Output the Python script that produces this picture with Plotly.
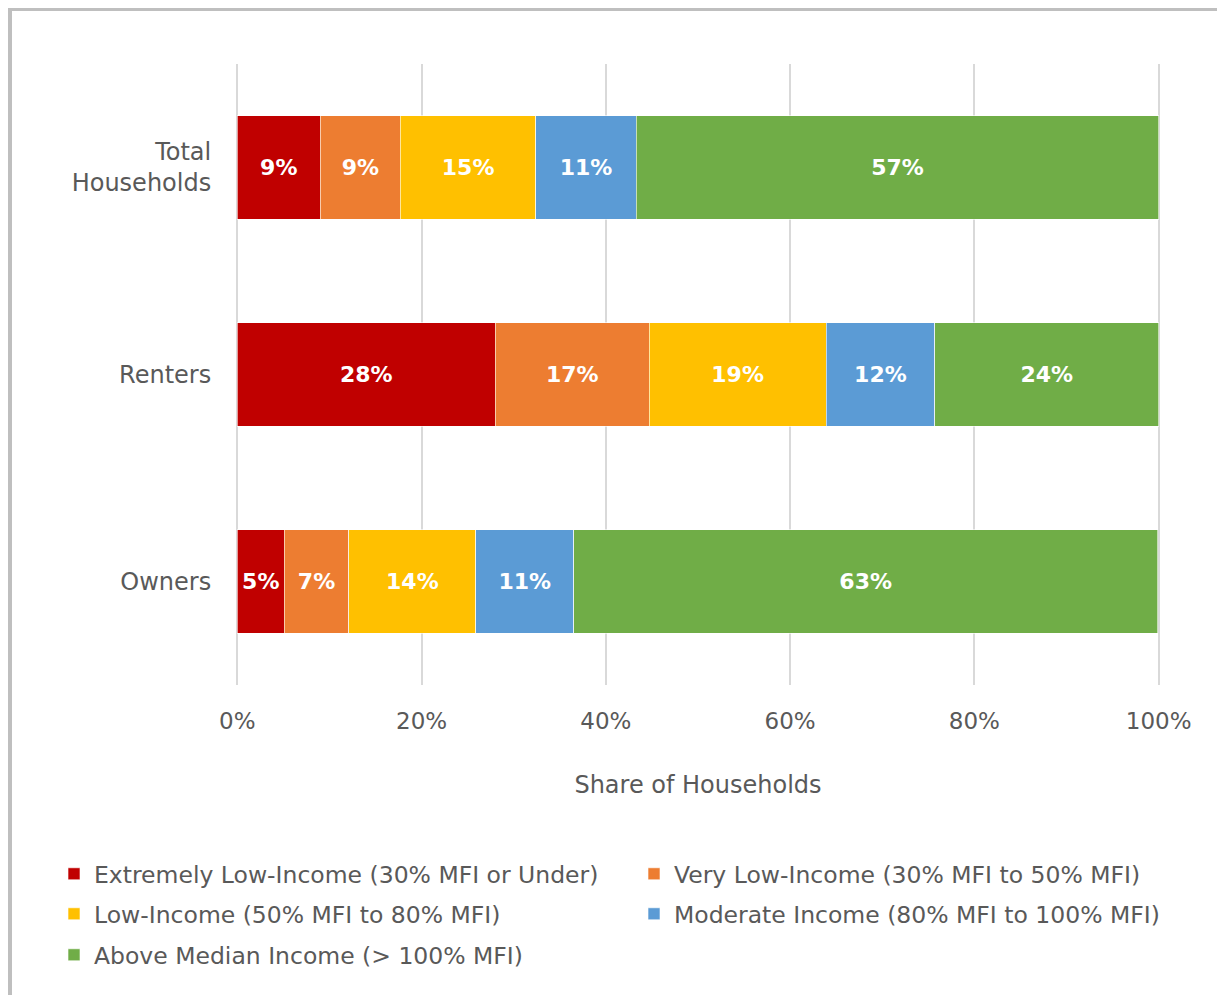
import plotly.graph_objects as go

categories = ["Total<br>Households", "Renters", "Owners"]
series_names = [
    "Extremely Low-Income (30% MFI or Under)",
    "Very Low-Income (30% MFI to 50% MFI)",
    "Low-Income (50% MFI to 80% MFI)",
    "Moderate Income (80% MFI to 100% MFI)",
    "Above Median Income (> 100% MFI)",
]
extremely_low = [9.0, 28.0, 5.1]
very_low = [8.7, 16.7, 7.0]
low = [14.7, 19.2, 13.8]
moderate = [10.9, 11.8, 10.6]
above_median = [56.7, 24.3, 63.4]
colors = ["#C00000", "#ED7D31", "#FFC000", "#5B9BD5", "#70AD47"]
x_ticks = [0, 20, 40, 60, 80, 100]
x_ticklabels = ["0%", "20%", "40%", "60%", "80%", "100%"]

FONT = "DejaVu Sans"
GRAY = "#595959"

# one legend per entry so the two-column layout and row spacing match
legend_ids = ["legend", "legend2", "legend3", "legend4", "legend5"]

fig = go.Figure()
for name, vals, col, lg in zip(series_names,
                               [extremely_low, very_low, low, moderate, above_median],
                               colors, legend_ids):
    fig.add_trace(go.Bar(
        y=categories, x=vals, name=name, orientation="h", legend=lg,
        showlegend=True,
        marker=dict(color=col, line=dict(color="rgba(255,255,255,0.6)", width=1)),
        text=[f"{round(v)}%" for v in vals],
        textposition="inside", insidetextanchor="middle", textangle=0,
        insidetextfont=dict(family=FONT, size=22, color="white", weight="bold"),
        hoverinfo="skip",
    ))

ML, MR, MT, MB = 227, 64, 56, 310
W, H = 1217, 987
PW = W - ML - MR
PH = H - MT - MB

def px_x(px_page):
    return (px_page - 8 - ML) / PW

def px_y(py_page):
    return (H - MB - (py_page - 8)) / PH

legend_common = dict(
    orientation="h", xanchor="left", yanchor="middle",
    font=dict(family=FONT, size=23.5, color=GRAY),
    bgcolor="rgba(0,0,0,0)",
)

fig.update_layout(
    barmode="stack",
    bargap=0.5,
    showlegend=True,
    width=W, height=H,
    margin=dict(l=ML, r=MR, t=MT, b=MB),
    paper_bgcolor="white", plot_bgcolor="white",
    font=dict(family=FONT, color=GRAY, size=24),
    xaxis=dict(
        range=[-0.25, 100.25], tickvals=x_ticks, ticktext=x_ticklabels,
        showgrid=True, gridcolor="#D9D9D9", gridwidth=2,
        zeroline=False, showline=False,
        ticks="outside", ticklen=15, tickcolor="rgba(0,0,0,0)",
        tickfont=dict(family=FONT, size=23, color=GRAY),
        title=dict(text="Share of Households", font=dict(family=FONT, size=24, color=GRAY), standoff=43),
        fixedrange=True,
    ),
    yaxis=dict(
        autorange="reversed", showgrid=False, zeroline=False, showline=False,
        ticks="outside", ticklen=18, tickcolor="rgba(0,0,0,0)",
        tickfont=dict(family=FONT, size=24, color=GRAY),
    ),
    legend=dict(x=px_x(54), y=px_y(874), **legend_common),
    legend2=dict(x=px_x(634), y=px_y(874), **legend_common),
    legend3=dict(x=px_x(54), y=px_y(914), **legend_common),
    legend4=dict(x=px_x(634), y=px_y(914), **legend_common),
    legend5=dict(x=px_x(54), y=px_y(955), **legend_common),
    shapes=[dict(
        type="rect", xref="paper", yref="paper",
        x0=px_x(9.5), x1=1.3, y0=-0.7, y1=px_y(8.5),
        line=dict(color="#BFBFBF", width=5), fillcolor="rgba(0,0,0,0)", layer="below",
    )],
)

fig.write_html("out.html")
